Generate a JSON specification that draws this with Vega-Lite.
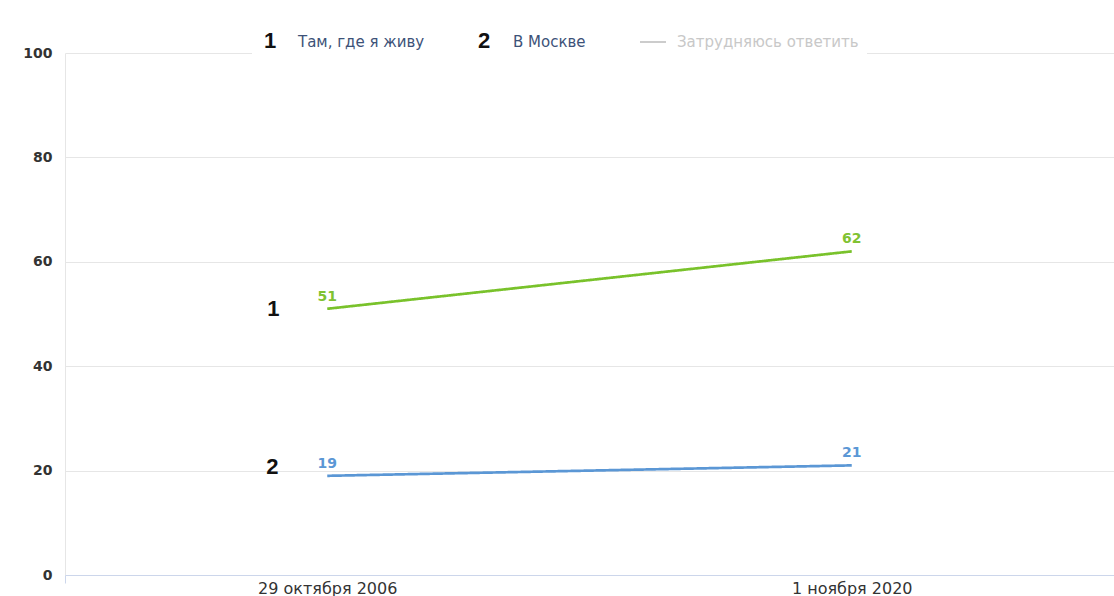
{
  "$schema": "https://vega.github.io/schema/vega-lite/v6.json",
  "width": 1049,
  "height": 522,
  "autosize": {"type": "none"},
  "padding": {"left": 65, "top": 53, "right": 0, "bottom": 21},
  "background": "white",
  "config": {"view": {"stroke": null}, "font": "DejaVu Sans"},
  "data": {
    "values": [
      {"date": "29 октября 2006", "series": "Там, где я живу", "num": "1", "value": 51},
      {"date": "1 ноября 2020", "series": "Там, где я живу", "num": "1", "value": 62},
      {"date": "29 октября 2006", "series": "В Москве", "num": "2", "value": 19},
      {"date": "1 ноября 2020", "series": "В Москве", "num": "2", "value": 21}
    ]
  },
  "encoding": {
    "x": {
      "field": "date",
      "type": "nominal",
      "bandPosition": 0.5,
      "scale": {"type": "band", "domain": ["29 октября 2006", "1 ноября 2020"], "paddingInner": 0, "paddingOuter": 0},
      "axis": {
        "title": null,
        "labelAngle": 0,
        "tickBand": "extent",
        "grid": true,
        "gridColor": "#e6e6e6",
        "gridOpacity": {"condition": {"test": "datum.value === '29 октября 2006'", "value": 0}, "value": 1},
        "tickOpacity": {"condition": {"test": "datum.value === '29 октября 2006'", "value": 0}, "value": 1},
        "domainColor": "#ccd6eb",
        "tickColor": "#ccd6eb",
        "tickSize": 8,
        "labelPadding": -3,
        "labelFont": "DejaVu Sans",
        "labelFontSize": 16,
        "labelColor": "#333333",
        "zindex": 1
      }
    },
    "y": {
      "field": "value",
      "type": "quantitative",
      "scale": {"domain": [0, 100], "nice": false},
      "axis": {
        "title": null,
        "values": [0, 20, 40, 60, 80, 100],
        "grid": true,
        "gridColor": "#e6e6e6",
        "domain": false,
        "ticks": false,
        "labelPadding": 13,
        "labelFont": "DejaVu Sans",
        "labelFontSize": 14,
        "labelFontWeight": "bold",
        "labelColor": "#333333"
      }
    }
  },
  "layer": [
    {
      "mark": {"type": "line", "strokeWidth": 2.7},
      "encoding": {
        "color": {
          "field": "series",
          "type": "nominal",
          "scale": {"domain": ["Там, где я живу", "В Москве", "Затрудняюсь ответить"], "range": ["#79c22b", "#5b97d5", "#cccccc"]},
          "legend": {
            "orient": "none",
            "legendX": 187,
            "legendY": -33,
            "direction": "horizontal",
            "title": null,
            "symbolType": "stroke",
            "symbolSize": 676,
            "symbolStrokeWidth": 2,
            "symbolOpacity": {"expr": "datum.value === 'Затрудняюсь ответить' ? 1 : 0"},
            "labelOffset": 10,
            "columnPadding": 50,
            "labelFont": "DejaVu Sans",
            "labelFontSize": 15,
            "labelColor": {"expr": "datum.value === 'Затрудняюсь ответить' ? '#c8c8c8' : '#3d5278'"},
            "labelLimit": 400,
            "padding": 8,
            "fillColor": "white",
            "zindex": 0
          }
        },
        "strokeDash": {
          "field": "num",
          "type": "nominal",
          "scale": {"domain": ["1", "2"], "range": [[1, 0], [1, 0]]},
          "legend": {
            "orient": "none",
            "legendX": 167,
            "legendY": -33,
            "direction": "horizontal",
            "title": null,
            "symbolType": "stroke",
            "symbolSize": 1,
            "symbolOpacity": 0,
            "labelOffset": 0,
            "columnPadding": 179,
            "labelFont": "Liberation Sans",
            "labelFontSize": 22,
            "labelFontWeight": "bold",
            "labelColor": "#111111",
            "padding": 10,
            "zindex": 2
          }
        }
      }
    },
    {
      "mark": {"type": "text", "dy": -12, "font": "DejaVu Sans", "fontSize": 14, "fontWeight": "bold", "baseline": "middle"},
      "encoding": {
        "text": {"field": "value", "type": "quantitative"},
        "color": {"condition": {"test": "datum.series === 'В Москве'", "value": "#5b97d5"}, "value": "#80c232"}
      }
    },
    {
      "transform": [{"filter": "datum.date === '29 октября 2006' && datum.num === '1'"}],
      "mark": {"type": "text", "dx": -54, "dy": 0, "font": "Liberation Sans", "fontSize": 22, "fontWeight": "bold", "baseline": "middle", "color": "#111111"},
      "encoding": {"text": {"field": "num", "type": "nominal"}}
    },
    {
      "transform": [{"filter": "datum.date === '29 октября 2006' && datum.num === '2'"}],
      "mark": {"type": "text", "dx": -55, "dy": -9, "font": "Liberation Sans", "fontSize": 22, "fontWeight": "bold", "baseline": "middle", "color": "#111111"},
      "encoding": {"text": {"field": "num", "type": "nominal"}}
    }
  ]
}
